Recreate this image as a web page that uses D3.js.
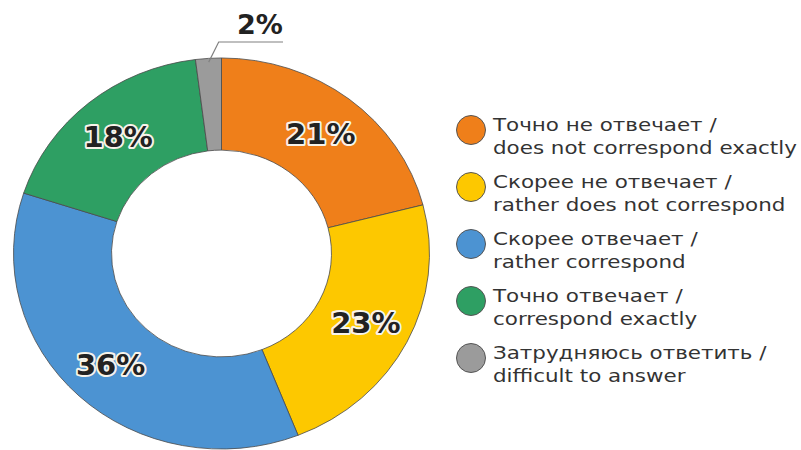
<!DOCTYPE html>
<html>
<head>
<meta charset="utf-8">
<script src="https://cdn.jsdelivr.net/npm/d3@7"></script>
<style>
  html, body { margin: 0; padding: 0; background: #fff; }
  svg { display: block; }
</style>
</head>
<body>
<svg id="chart" width="801" height="450"></svg>
<script>
// Survey answers, share of respondents (%)
const categories = [
  ["Точно не отвечает /", "does not correspond exactly"],
  ["Скорее не отвечает /", "rather does not correspond"],
  ["Скорее отвечает /", "rather correspond"],
  ["Точно отвечает /", "correspond exactly"],
  ["Затрудняюсь ответить /", "difficult to answer"]
];
const values = [21, 23, 36, 18, 2];
const colors = ["#EF7F1A", "#FDC800", "#4C93D2", "#2E9F63", "#9B9B9B"];

const svg = d3.select("#chart");

const cx = 221.5, cy = 253.5, squash = 0.94;
const outerR = 208, innerR = 110, labelR = 162;

const pie = d3.pie().sort(null).value(d => d)(values);
const arc = d3.arc().innerRadius(innerR).outerRadius(outerR);

const ring = svg.append("g")
  .attr("transform", `translate(${cx},${cy}) scale(1,${squash})`);

ring.selectAll("path")
  .data(pie)
  .join("path")
  .attr("d", arc)
  .attr("fill", (d, i) => colors[i])
  .attr("stroke", "#4a4a4a")
  .attr("stroke-width", 0.8)
  .attr("vector-effect", "non-scaling-stroke");

// position on the ring, in page coordinates
function ringPoint(angle, r) {
  return [cx + r * Math.sin(angle), cy - r * Math.cos(angle) * squash];
}

const labelFont = "'DejaVu Sans', Lato, sans-serif";

// percentage labels inside the larger slices
pie.forEach((d, i) => {
  if (d.value < 5) return;
  const mid = (d.startAngle + d.endAngle) / 2;
  const [x, y] = ringPoint(mid, labelR);
  svg.append("text")
    .attr("x", x).attr("y", y)
    .attr("dy", "0.36em")
    .attr("text-anchor", "middle")
    .style("font-family", labelFont)
    .style("font-weight", 700)
    .style("font-size", "29px")
    .style("paint-order", "stroke")
    .attr("fill", "#222")
    .attr("stroke", "#f7f3ea")
    .attr("stroke-width", 4)
    .attr("stroke-linejoin", "round")
    .text(d.value + "%");
});

// small slice: label outside with a leader line
pie.forEach((d, i) => {
  if (d.value >= 5) return;
  const mid = (d.startAngle + d.endAngle) / 2;
  const [x0, y0] = ringPoint(mid, outerR - 4);
  const elbow = [x0 + 10, 42];
  const end = [283, 42];
  svg.append("polyline")
    .attr("points", [[x0, y0], elbow, end].map(p => p.join(",")).join(" "))
    .attr("fill", "none")
    .attr("stroke", "#808080")
    .attr("stroke-width", 1.2);
  svg.append("text")
    .attr("x", 260).attr("y", 34)
    .attr("text-anchor", "middle")
    .style("font-family", labelFont)
    .style("font-weight", 700)
    .style("font-size", "27px")
    .attr("fill", "#222")
    .text(d.value + "%");
});

// legend: wide geometric lettering, emulated by a horizontal stretch
const legendFont = "'DejaVu Sans', 'Open Sans', sans-serif";
const legendX = 493, legendRight = 797;
const legend = svg.append("g");
const itemY = d3.scalePoint().domain(d3.range(categories.length)).range([130, 358]);

const legendTexts = [];
categories.forEach((lines, i) => {
  const y = itemY(i);
  legend.append("circle")
    .attr("cx", 471).attr("cy", y).attr("r", 14.5)
    .attr("fill", colors[i])
    .attr("stroke", "#555")
    .attr("stroke-width", 1);
  lines.forEach((line, k) => {
    const t = legend.append("text")
      .attr("x", 0).attr("y", 0)
      .attr("data-y", y + 1 + k * 23)
      .style("font-family", legendFont)
      .style("font-size", "18px")
      .attr("fill", "#333")
      .text(line);
    legendTexts.push(t);
  });
});
const widest = d3.max(legendTexts, t => t.node().getComputedTextLength());
const stretch = (legendRight - legendX) / widest;
legendTexts.forEach(t => {
  t.attr("transform", `translate(${legendX},${t.attr("data-y")}) scale(${stretch},1)`);
});
</script>
</body>
</html>
